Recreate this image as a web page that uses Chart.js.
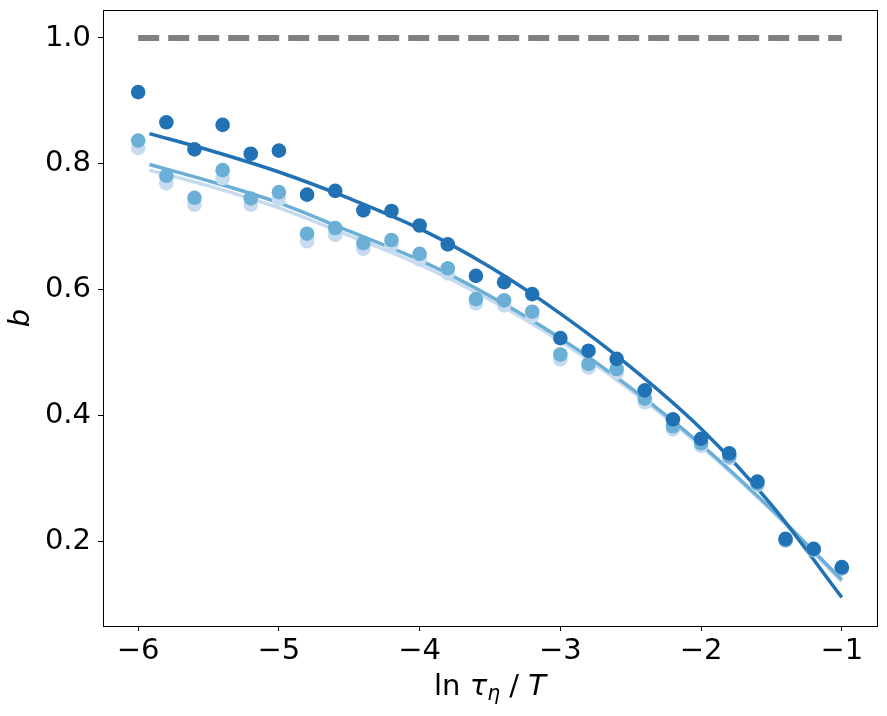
<!DOCTYPE html>
<html><head><meta charset="utf-8">
<script src="https://cdn.jsdelivr.net/npm/chart.js@4"></script>
<style>
html,body{margin:0;padding:0;background:#fff;}
#wrap{position:relative;width:887px;height:716px;}
canvas{display:block;}
#xl{position:absolute;left:103px;width:774px;top:671px;text-align:center;font-family:'DejaVu Sans';font-size:29px;color:#000;white-space:pre;line-height:1;}
#xl i{font-style:oblique;}
#xl sub{font-size:70%;vertical-align:-0.25em;line-height:0;font-style:oblique;}
</style></head><body>
<div id="wrap"><canvas id="c" width="887" height="716"></canvas><div id="xl">ln <i>τ</i><sub>η</sub> / <i>T</i></div></div>
<script>
const xVals = [-6,-5.8,-5.6,-5.4,-5.2,-5,-4.8,-4.6,-4.4,-4.2,-4,-3.8,-3.6,-3.4,-3.2,-3,-2.8,-2.6,-2.4,-2.2,-2,-1.8,-1.6,-1.4,-1.2,-1];
const bDark   = [0.914,0.866,0.823,0.862,0.816,0.821,0.751,0.757,0.726,0.725,0.702,0.672,0.622,0.612,0.593,0.523,0.503,0.490,0.440,0.394,0.363,0.340,0.295,0.204,0.188,0.159];
const bMedium = [0.837,0.781,0.746,0.790,0.745,0.755,0.689,0.698,0.674,0.679,0.657,0.634,0.585,0.583,0.565,0.497,0.482,0.474,0.427,0.383,0.356,0.335,0.292,0.202,0.187,0.157];
const bLight  = [0.825,0.769,0.735,0.777,0.735,0.744,0.677,0.687,0.665,0.671,0.648,0.626,0.578,0.575,0.558,0.489,0.476,0.468,0.421,0.378,0.352,0.332,0.290,0.201,0.186,0.157];
const fitX      = [-5.92,-5.5,-5,-4.5,-4,-3.5,-3,-2.5,-2,-1.5,-1];
const fitDark   = [0.848,0.822,0.787,0.745,0.697,0.636,0.562,0.477,0.379,0.258,0.111];
const fitMedium = [0.799,0.773,0.738,0.693,0.647,0.590,0.523,0.444,0.354,0.251,0.139];
const fitLight  = [0.790,0.765,0.730,0.686,0.640,0.584,0.518,0.440,0.351,0.249,0.136];
const refX = [-6,-1];
const refY = [1.0,1.0];
const xTicks = [-6,-5,-4,-3,-2,-1];
const yTicks = [0.2,0.4,0.6,0.8,1.0];

const C_DARK='#2171b5', C_MED='#6baed6', C_LIGHT='#c6dbef';
const pts = (xs, ys) => xs.map((x,i)=>({x:x,y:ys[i]}));
const scatterDs = (ys,col,order)=>({type:'scatter',data:pts(xVals,ys),backgroundColor:col,pointBackgroundColor:col,pointRadius:7.3,pointHoverRadius:7.3,pointBorderWidth:0,showLine:false,order:order});
const lineDs = (ys,col,order)=>({type:'line',data:pts(fitX,ys),borderColor:col,borderWidth:3.5,pointRadius:0,fill:false,cubicInterpolationMode:'monotone',order:order});

const boxPlugin = {id:'box',afterDraw(chart){const a=chart.chartArea,ctx=chart.ctx;ctx.save();ctx.strokeStyle='#000';ctx.lineWidth=1;ctx.strokeRect(Math.round(a.left)+0.5,Math.round(a.top)+0.5,Math.round(a.right-a.left),Math.round(a.bottom-a.top));ctx.restore();}};

Chart.defaults.font.family = "'DejaVu Sans'";
new Chart(document.getElementById('c'),{
  data:{datasets:[
    scatterDs(bDark,C_DARK,0),
    scatterDs(bMedium,C_MED,1),
    scatterDs(bLight,C_LIGHT,2),
    lineDs(fitDark,C_DARK,3),
    lineDs(fitMedium,C_MED,4),
    lineDs(fitLight,C_LIGHT,5),
    {type:'line',data:pts(refX,refY),borderColor:'#808080',borderWidth:6,borderDash:[21,9],pointRadius:0,fill:false,order:6}
  ]},
  options:{
    responsive:false,animation:false,devicePixelRatio:1,
    layout:{padding:{top:10,right:10,left:0,bottom:0}},
    plugins:{legend:{display:false},tooltip:{enabled:false}},
    scales:{
      x:{type:'linear',min:-6.25,max:-0.75,
        afterFit(s){s.height=90;s.paddingLeft=0;s.paddingRight=0;},
        afterBuildTicks(s){s.ticks=xTicks.map(v=>({value:v}));},
        grid:{display:true,drawOnChartArea:false,drawTicks:true,tickLength:5,color:'#000',lineWidth:1},
        border:{display:true,color:'#000',width:1},
        ticks:{color:'#000',font:{size:29},padding:3,maxRotation:0,callback:v=>(v<0?'\u2212':'')+Math.abs(v)}},
      y:{type:'linear',min:0.0655,max:1.0445,
        afterFit(s){s.width=103;s.paddingTop=0;s.paddingBottom=0;},
        afterBuildTicks(s){s.ticks=yTicks.map(v=>({value:v}));},
        grid:{display:true,drawOnChartArea:false,drawTicks:true,tickLength:5,color:'#000',lineWidth:1},
        border:{display:true,color:'#000',width:1},
        ticks:{color:'#000',font:{size:29},padding:7,callback:v=>Number(v).toFixed(1)},
        title:{display:true,text:'b',color:'#000',font:{size:29,style:'italic'},padding:{top:4,bottom:0}}}
    }
  },
  plugins:[boxPlugin]
});
</script>
</body></html>
